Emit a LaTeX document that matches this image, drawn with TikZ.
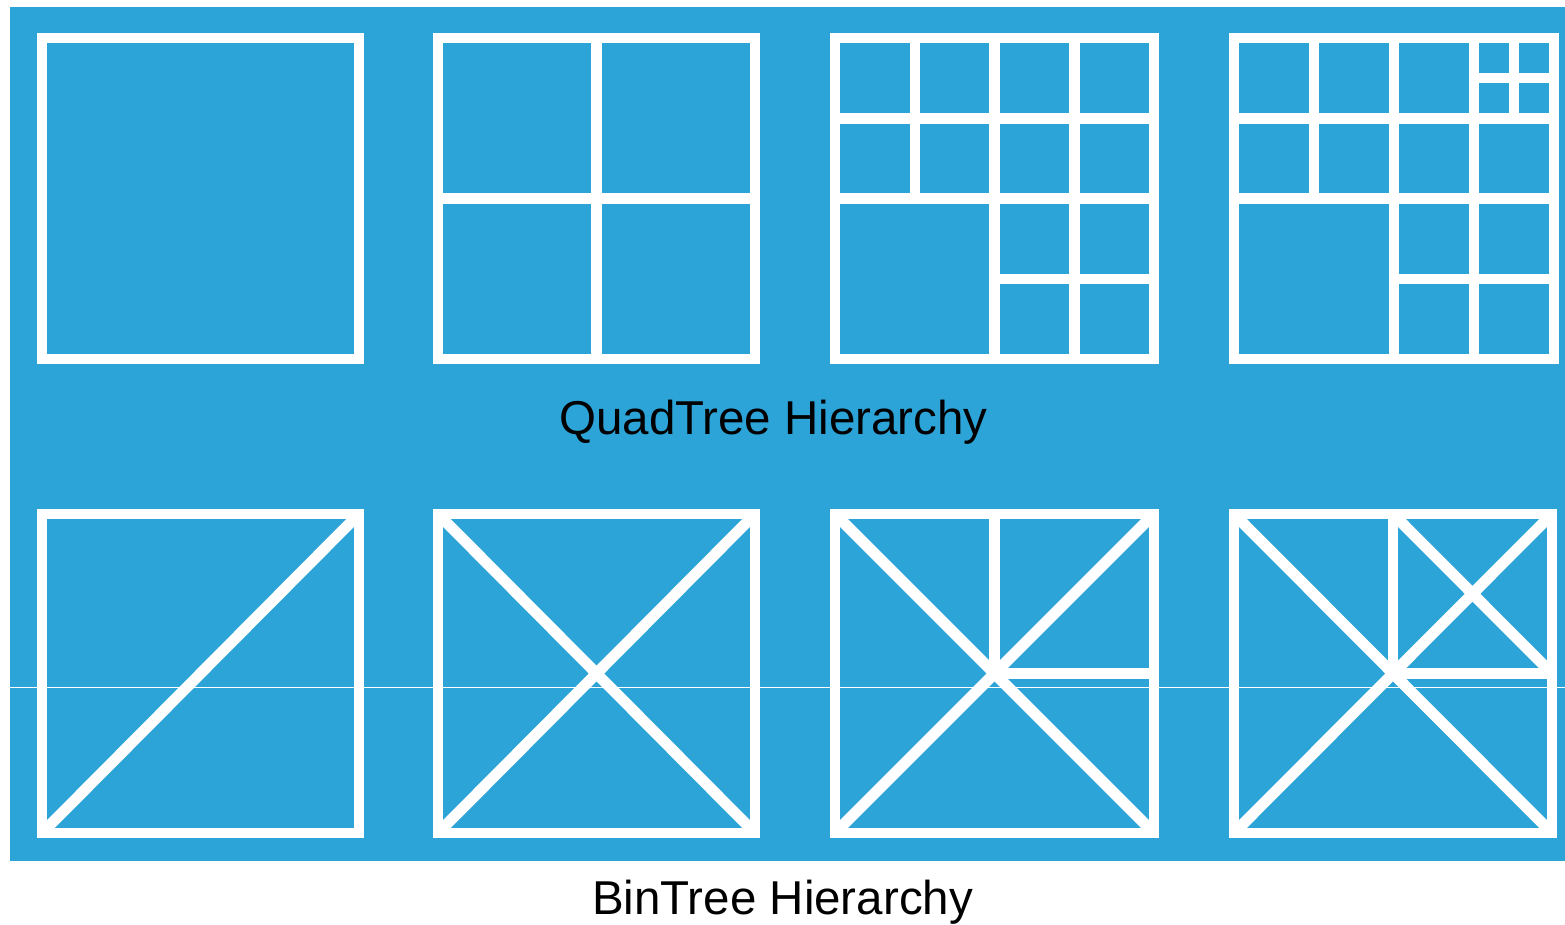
\documentclass[tikz,border=0pt]{standalone}
\usepackage{fontspec}
\setmainfont{Liberation Sans}
\definecolor{panelblue}{RGB}{44,164,216}
\begin{document}
\begin{tikzpicture}[x=1pt,y=-1pt,
  frame/.style={draw=white, line width=10pt},
  split/.style={draw=white, line width=10.5pt},
  diag/.style={draw=white, line width=11pt},
  caption/.style={font=\fontsize{47.5}{57}\selectfont, text=black, anchor=base, inner sep=0pt}]
  % page and blue panel
  \fill[white] (0,0) rectangle (1565,924);
  \useasboundingbox (0,0) rectangle (1565,924);
  \fill[panelblue] (10,7) rectangle (1565,861);
  \draw[white, line width=1pt] (10,687) -- (1565,687);

  % ---------- QuadTree row ----------
  % level 0
  \begin{scope}[shift={(42,38)}, x=317pt, y=-321pt]
    \draw[frame] (0,0) rectangle (1,1);
  \end{scope}
  % level 1
  \begin{scope}[shift={(438,38)}, x=317pt, y=-321pt]
    \draw[frame] (0,0) rectangle (1,1);
    \draw[split] (0.5,0) -- (0.5,1) (0,0.5) -- (1,0.5);
  \end{scope}
  % level 2
  \begin{scope}[shift={(835,38)}, x=319pt, y=-321pt]
    \draw[frame] (0,0) rectangle (1,1);
    \draw[split] (0.5,0) -- (0.5,1) (0.75,0) -- (0.75,1) (0.25,0) -- (0.25,0.5)
                 (0,0.25) -- (1,0.25) (0,0.5) -- (1,0.5) (0.5,0.75) -- (1,0.75);
  \end{scope}
  % level 3
  \begin{scope}[shift={(1234,38)}, x=320pt, y=-321pt]
    \draw[frame] (0,0) rectangle (1,1);
    \draw[split] (0.5,0) -- (0.5,1) (0.75,0) -- (0.75,1) (0.25,0) -- (0.25,0.5)
                 (0,0.25) -- (1,0.25) (0,0.5) -- (1,0.5) (0.5,0.75) -- (1,0.75)
                 (0.875,0) -- (0.875,0.25) (0.75,0.125) -- (1,0.125);
  \end{scope}

  \node[caption] (quadcap) at (773.5,434) {QuadTree Hierarchy};

  % ---------- BinTree row ----------
  \begin{scope}[shift={(42,514)}, x=317pt, y=-319pt]
    \draw[frame] (0,0) rectangle (1,1);
    \draw[diag] (0,1) -- (1,0);
  \end{scope}
  \begin{scope}[shift={(438,514)}, x=317pt, y=-319pt]
    \draw[frame] (0,0) rectangle (1,1);
    \draw[diag] (0,1) -- (1,0) (0,0) -- (1,1);
  \end{scope}
  \begin{scope}[shift={(835,514)}, x=319pt, y=-319pt]
    \draw[frame] (0,0) rectangle (1,1);
    \draw[diag] (0,1) -- (1,0) (0,0) -- (1,1);
    \draw[split] (0.5,0) -- (0.5,0.5) -- (1,0.5);
  \end{scope}
  \begin{scope}[shift={(1234,514)}, x=318pt, y=-319pt]
    \draw[frame] (0,0) rectangle (1,1);
    \draw[diag] (0,1) -- (1,0) (0,0) -- (1,1) (0.5,0) -- (1,0.5);
    \draw[split] (0.5,0) -- (0.5,0.5) -- (1,0.5);
  \end{scope}

  \node[caption] (bincap) at (782.5,914) {BinTree Hierarchy};
\end{tikzpicture}
\end{document}
